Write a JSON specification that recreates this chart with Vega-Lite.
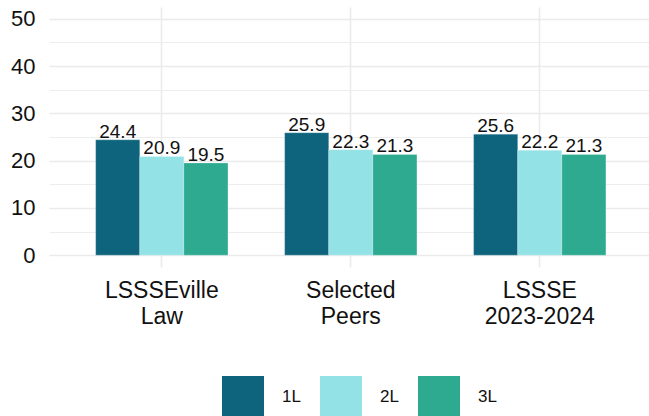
{
  "$schema": "https://vega.github.io/schema/vega-lite/v6.json",
  "width": 600,
  "height": 260,
  "autosize": {"type": "none"},
  "padding": {"left": 49, "top": 7, "right": 0, "bottom": 149},
  "background": "white",
  "config": {"view": {"stroke": null}, "font": "Liberation Sans"},
  "data": {
    "values": [
      {"group": "LSSSEville|Law", "year": "1L", "value": 24.4},
      {"group": "LSSSEville|Law", "year": "2L", "value": 20.9},
      {"group": "LSSSEville|Law", "year": "3L", "value": 19.5},
      {"group": "Selected|Peers", "year": "1L", "value": 25.9},
      {"group": "Selected|Peers", "year": "2L", "value": 22.3},
      {"group": "Selected|Peers", "year": "3L", "value": 21.3},
      {"group": "LSSSE|2023-2024", "year": "1L", "value": 25.6},
      {"group": "LSSSE|2023-2024", "year": "2L", "value": 22.2},
      {"group": "LSSSE|2023-2024", "year": "3L", "value": 21.3}
    ]
  },
  "encoding": {
    "x": {
      "field": "group",
      "type": "nominal",
      "sort": ["LSSSEville|Law", "Selected|Peers", "LSSSE|2023-2024"],
      "scale": {"paddingInner": 0.3, "paddingOuter": 0.2375, "align": 0.52},
      "axis": {
        "title": null,
        "domain": false,
        "ticks": false,
        "tickSize": 0,
        "grid": true,
        "gridColor": "#ebebeb",
        "gridWidth": 1.6,
        "labelAngle": 0,
        "labelExpr": "split(datum.label, '|')",
        "labelFontSize": 23,
        "labelLineHeight": 26,
        "labelColor": "#111111",
        "labelPadding": 12
      }
    },
    "xOffset": {"field": "year", "type": "nominal", "scale": {"paddingInner": 0, "paddingOuter": 0}},
    "y": {
      "field": "value",
      "type": "quantitative",
      "scale": {"domain": [-2.5, 52.5], "nice": false, "zero": false},
      "axis": {
        "title": null,
        "domain": false,
        "ticks": false,
        "tickSize": 0,
        "values": [0, 5, 10, 15, 20, 25, 30, 35, 40, 45, 50],
        "labelExpr": "datum.value % 10 === 0 ? datum.label : ''",
        "labelFontSize": 22,
        "labelColor": "#111111",
        "labelPadding": 14,
        "gridColor": "#ebebeb",
        "gridWidth": {"condition": {"test": "datum.value % 10 === 0", "value": 1.6}, "value": 0.9}
      }
    }
  },
  "layer": [
    {
      "mark": {"type": "bar", "stroke": "#ffffff", "strokeWidth": 0.4, "strokeOpacity": 0.6},
      "encoding": {
        "y2": {"datum": 0},
        "color": {
          "field": "year",
          "type": "nominal",
          "scale": {"domain": ["1L", "2L", "3L"], "range": ["#0d647c", "#93e2e6", "#2eaa91"]},
          "legend": {
            "orient": "none",
            "legendX": 173,
            "legendY": 369,
            "direction": "horizontal",
            "title": null,
            "symbolType": "square",
            "symbolSize": 1764,
            "symbolStrokeWidth": 0,
            "symbolOpacity": 1,
            "labelFontSize": 17,
            "labelColor": "#111111",
            "labelOffset": 18,
            "columnPadding": 19,
            "padding": 0
          }
        }
      }
    },
    {
      "mark": {"type": "text", "baseline": "alphabetic", "dy": -2, "fontSize": 19, "color": "#111111"},
      "encoding": {"text": {"field": "value", "type": "quantitative", "format": ".1f"}}
    }
  ]
}
